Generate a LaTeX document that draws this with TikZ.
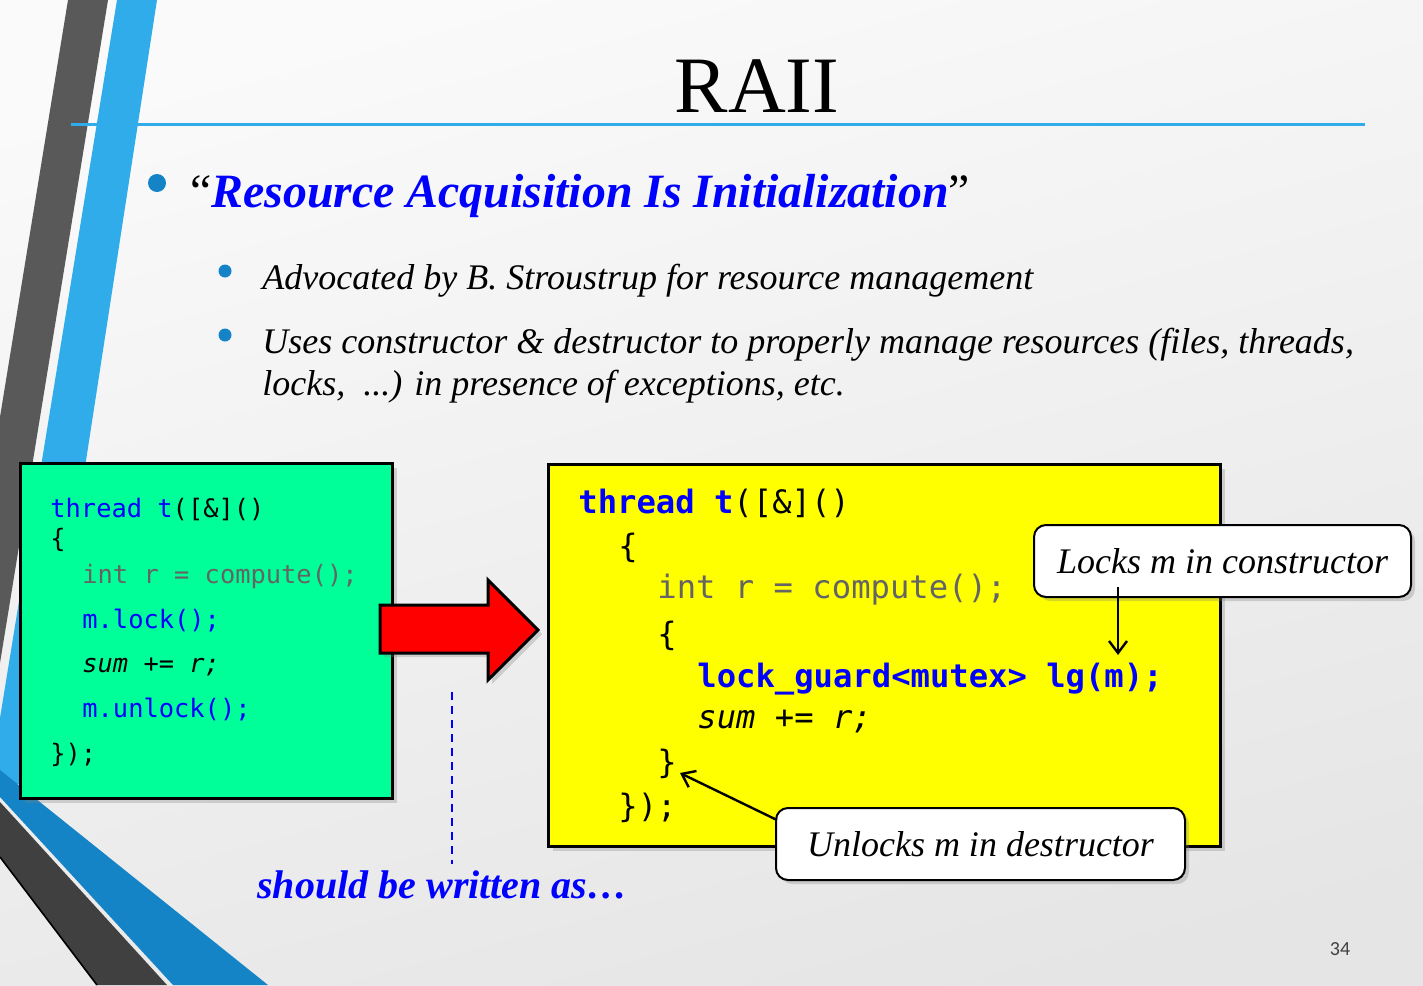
\documentclass[tikz,border=0pt]{standalone}
\usepackage{fontspec}
\setmainfont{Liberation Serif}
\setmonofont{DejaVu Sans Mono}
\newfontfamily\pagefont{Carlito}
\usepackage{tikz}
\usetikzlibrary{arrows,arrows.meta,shapes,positioning,shadows}
\usepackage{xcolor}
\definecolor{slideblue}{RGB}{47,172,233}
\definecolor{slidedkblue}{RGB}{21,132,198}
\definecolor{slidegray}{RGB}{89,89,89}
\definecolor{slidedark}{RGB}{64,64,64}
\definecolor{codeblue}{RGB}{0,0,255}
\definecolor{codegray}{RGB}{100,100,100}
\definecolor{boxgreen}{RGB}{0,255,153}
\definecolor{boxyellow}{RGB}{255,255,0}
\definecolor{arrowred}{RGB}{255,0,0}
\definecolor{bulletblue}{RGB}{21,132,198}
\tikzstyle{codebox} = [rectangle, draw=black, line width=1.5pt, drop shadow={shadow xshift=2.5pt, shadow yshift=-2.5pt, opacity=0.3}]
\tikzstyle{callout} = [rectangle, rounded corners=6pt, draw=black, line width=1pt, fill=white, minimum height=36pt, font=\fontsize{18}{21}\selectfont\itshape, drop shadow={shadow xshift=2pt, shadow yshift=-2pt, opacity=0.3}]
\tikzstyle{arrow} = [line width=1.2pt, -{Straight Barb[length=6pt, width=9pt]}]
\tikzstyle{smallcode} = [anchor=base west, inner sep=0pt, font=\ttfamily\fontsize{12.7}{15}\selectfont]
\tikzstyle{bigcode} = [anchor=base west, inner sep=0pt, font=\ttfamily\fontsize{16.1}{19}\selectfont]
\tikzstyle{subitem} = [anchor=base west, inner sep=0pt, font=\fontsize{18}{21}\selectfont\itshape]
\newcommand{\kw}[1]{\textcolor{codeblue}{#1}}

\begin{document}
\begin{tikzpicture}[x=0.5pt, y=-0.5pt]
\useasboundingbox (0,0) rectangle (1423,985);
% Slide background and side bands
\shade[top color=gray!4, bottom color=gray!20, shading angle=15] (0,0) rectangle (1423,985);
\fill[slidegray] (68,0) -- (108,0) -- (0,663) -- (0,417) -- cycle;
\fill[slideblue] (117,0) -- (157,0) -- (36,785) -- (0,783) -- (0,718) -- cycle;
\fill[slidedark] (0,802) -- (167,985) -- (97,985) -- (0,857) -- cycle;
\draw[black, line width=0.8pt] (0,857) -- (97,985);
\fill[slidedkblue] (0,770) -- (268,985) -- (173,985) -- (0,797) -- cycle;

% Title
\node (title) [anchor=base, inner sep=0pt, font=\fontsize{40}{44}\selectfont] at (757,112) {RAII};
\draw[slideblue, line width=1.5pt] (71,124) -- (1365,124);

% Bullets
\fill[bulletblue] (157,183) circle (9);
\node (raii) [anchor=base west, inner sep=0pt, font=\fontsize{23.9}{29}\selectfont] at (190,207)
  {“\textcolor{codeblue}{\textbf{\textit{Resource Acquisition Is Initialization}}}”};
\fill[bulletblue] (225,271) circle (6.5);
\fill[bulletblue] (225,335) circle (6.5);
\node (adv) [subitem] at (262,289) {Advocated by B. Stroustrup for resource management};
\node (uses) [subitem] at (262,353) {Uses constructor \& destructor to properly manage resources (files, threads,};
\node (locks) [subitem] at (262,395) {locks, \ ...) in presence of exceptions, etc.};

% Manual locking
\node (manual) [codebox, fill=boxgreen, minimum width=186pt, minimum height=167.5pt] at (206,630.5) {};
\node (g1) [smallcode] at (50,517) {\kw{thread t}([\&]()};
\node (g2) [smallcode] at (50,547) {\{};
\node (g3) [smallcode, text=codegray] at (82,583) {int r = compute();};
\node (g4) [smallcode, text=codeblue] at (82,628) {m.lock();};
\node (g5) [smallcode, font=\ttfamily\itshape\fontsize{12.7}{15}\selectfont] at (82,672) {sum += r;};
\node (g6) [smallcode, text=codeblue] at (82,717) {m.unlock();};
\node (g7) [smallcode] at (50,762) {\});};

% Red arrow
\draw[fill=arrowred, line width=1.5pt, drop shadow={shadow xshift=2pt, shadow yshift=-2pt, opacity=0.3}]
  (380,605) -- (488,605) -- (488,580) -- (538,630) -- (488,680) -- (488,653) -- (380,653) -- cycle;

% RAII version
\node (guarded) [codebox, fill=boxyellow, minimum width=336pt, minimum height=191pt] at (884,655) {};
\node (y1) [bigcode] at (578,513) {\kw{\bfseries thread t}([\&]()};
\node (y2) [bigcode] at (618,557) {\{};
\node (y3) [bigcode, text=codegray] at (657,598) {int r = compute();};
\node (y4) [bigcode] at (657,645) {\{};
\node (y5) [bigcode, text=codeblue, font=\ttfamily\bfseries\fontsize{16.1}{19}\selectfont] at (697,687) {lock\_guard<mutex> lg(m);};
\node (y6) [bigcode, font=\ttfamily\itshape\fontsize{16.1}{19}\selectfont] at (697,728) {sum += r;};
\node (y7) [bigcode] at (657,773) {\}};
\node (y8) [bigcode] at (618,817) {\});};

% Callouts
\coordinate (lgm) at (1118,655);
\coordinate (brace) at (680,773);
\node (lockcall) [callout, minimum width=188.5pt] at (1222.5,561) {Locks m in constructor};
\node (unlockcall) [callout, minimum width=204.5pt] at (980.5,844) {Unlocks m in destructor};
\draw[arrow] ([shift={(0,-11)}]lockcall.south -| lgm) -- (lgm);
\draw[arrow] ([shift={(2,13)}]unlockcall.north west) -- (brace);

% Transition
\node (should) [anchor=base west, inner sep=0pt, text=codeblue, font=\fontsize{20}{24}\selectfont\bfseries\itshape] at (257,898) {should be written as…};
\coordinate (dashtop) at (452,692);
\draw[codeblue, dashed, line width=1.3pt, dash pattern=on 4pt off 3pt] (dashtop) -- ([yshift=3pt]dashtop |- should.north);

% Page number
\node (page) [anchor=base, inner sep=0pt, text=black!75, font=\pagefont\fontsize{10}{12}\selectfont] at (1340,955) {34};
\end{tikzpicture}
\end{document}
